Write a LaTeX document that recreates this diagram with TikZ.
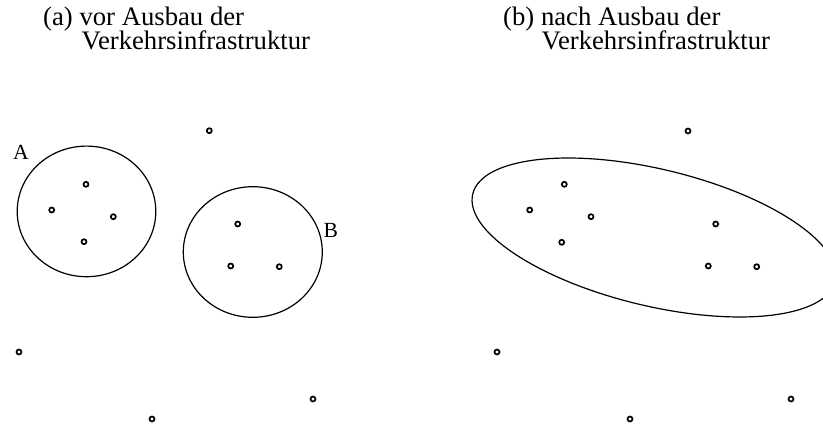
\documentclass[tikz,border=0pt]{standalone}
\usepackage{fontspec}
\setmainfont{Liberation Serif}
\begin{document}
\begin{tikzpicture}[x=1pt,y=-1pt,
  dot/.style={circle,draw,line width=1.7pt,minimum size=5pt,inner sep=0pt},
  region/.style={draw,line width=1.2pt},
  titletext/.style={anchor=base west,inner sep=0pt,font=\fontsize{26.7}{30}\selectfont},
  lbl/.style={anchor=base west,inner sep=0pt,font=\fontsize{21.6}{25}\selectfont}]
\useasboundingbox (0,0) rectangle (823,428);
\clip (0,0) rectangle (823,428);
% titles
\node[titletext] (ta1) at (43,26) {(a) vor Ausbau der};
\node[titletext] (ta2) at (81.5,49.5) {Verkehrsinfrastruktur};
\node[titletext] (tb1) at (503,26) {(b) nach Ausbau der};
\node[titletext] (tb2) at (541.5,49.5) {Verkehrsinfrastruktur};
% left panel
\draw[region] (86.5,211.4) ellipse [x radius=69.3pt, y radius=65.3pt];
\draw[region] (252.8,252) ellipse [x radius=69.5pt, y radius=65.3pt];
\node[lbl] (labA) at (13,159.3) {A};
\node[lbl] (labB) at (323.5,237.3) {B};
\node[dot] (l1) at (209.3,130.7) {};
\node[dot] (l2) at (86,184.3) {};
\node[dot] (l3) at (51.7,210) {};
\node[dot] (l4) at (113.3,216.7) {};
\node[dot] (l5) at (84,241.7) {};
\node[dot] (l6) at (237.7,224) {};
\node[dot] (l7) at (230.7,266) {};
\node[dot] (l8) at (279.3,266.7) {};
\node[dot] (l9) at (19,352) {};
\node[dot] (l10) at (313,399) {};
\node[dot] (l11) at (152,419) {};
% right panel
\draw[region, rotate around={-13.5:(654,237.5)}] (654,237.5) ellipse [x radius=186.4pt, y radius=68.4pt];
\node[dot] (r1) at (688,131) {};
\node[dot] (r2) at (564.3,184.3) {};
\node[dot] (r3) at (529.7,210) {};
\node[dot] (r4) at (591,216.7) {};
\node[dot] (r5) at (561.7,242.3) {};
\node[dot] (r6) at (715.7,224) {};
\node[dot] (r7) at (708.3,266) {};
\node[dot] (r8) at (756.7,266.7) {};
\node[dot] (r9) at (497,352) {};
\node[dot] (r10) at (791,399) {};
\node[dot] (r11) at (630,419) {};
\end{tikzpicture}
\end{document}
